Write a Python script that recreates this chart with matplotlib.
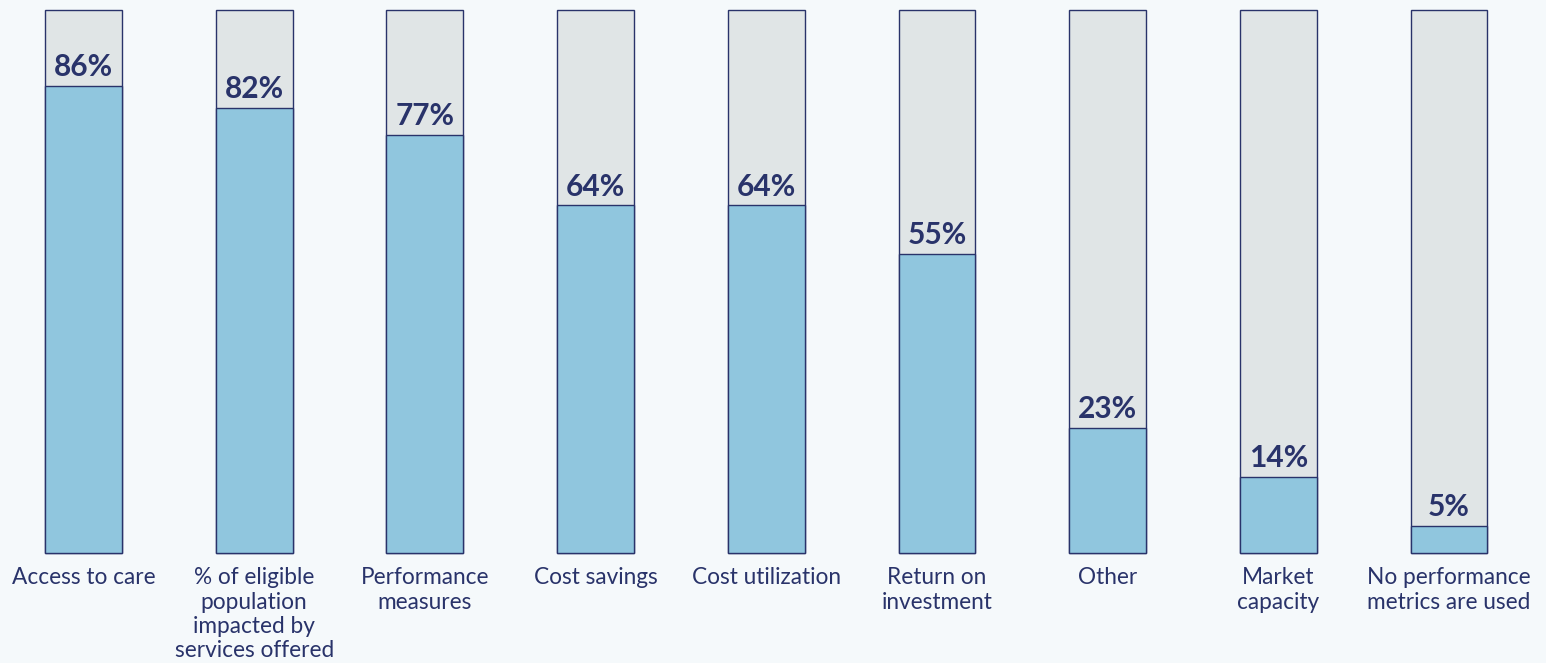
import matplotlib
matplotlib.use("Agg")
import matplotlib.pyplot as plt

categories = [
    "Access to care",
    "% of eligible\npopulation\nimpacted by\nservices offered",
    "Performance\nmeasures",
    "Cost savings",
    "Cost utilization",
    "Return on\ninvestment",
    "Other",
    "Market\ncapacity",
    "No performance\nmetrics are used",
]
values = [86, 82, 77, 64, 64, 55, 23, 14, 5]

bg = "#f5f9fb"
gray = "#e0e5e6"
blue = "#90c6de"
navy = "#29336a"

fig = plt.figure(figsize=(15.46, 6.63), dpi=100, facecolor=bg)
ax = fig.add_axes([0, 0, 1, 1])
ax.set_facecolor(bg)

x = list(range(len(values)))
width = 0.45

# grey full-height track, blue fill on top
ax.bar(x, [100] * len(values), width=width, color=gray, edgecolor=navy, linewidth=1.0, zorder=1)
ax.bar(x, values, width=width, color=blue, edgecolor=navy, linewidth=1.0, zorder=2)

for xi, v, cat in zip(x, values, categories):
    ax.text(xi, v + 0.9, f"{v}%", ha="center", va="bottom", fontsize=21.5,
            color=navy, fontfamily="Lato", fontweight="bold", zorder=3)
    ax.text(xi, -2.6, cat, ha="center", va="top", fontsize=16.3, color=navy,
            fontfamily="Lato", linespacing=1.2)

ax.set_xlim(-0.489, 8.568)
ax.set_ylim(-20.26, 101.84)
ax.axis("off")

fig.savefig("out.png", dpi=100, facecolor=bg)
